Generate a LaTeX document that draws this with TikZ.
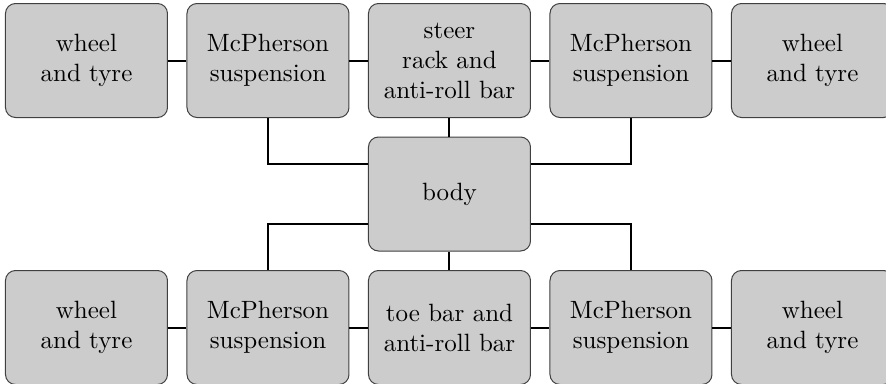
\documentclass[tikz,border=0pt]{standalone}
\usepackage{tikz}
\usetikzlibrary{positioning}

\begin{document}
\begin{tikzpicture}[
    node distance=7.4pt and 7.4pt,
    part/.style={rectangle, rounded corners, draw=black!75, fill=black!20, minimum width=64.8pt, minimum height=45.6pt, align=center, inner sep=2pt},
    link/.style={thick}
]
% page frame, the outer boxes run past it
\useasboundingbox (-179.8pt,24.2pt) rectangle (174.6pt,-129pt);

% front axle
\node[part] (steer) {steer\\rack and\\anti-roll bar};
\node[part, left=of steer] (suspFL) {McPherson\\suspension};
\node[part, left=of suspFL] (wheelFL) {wheel\\and tyre};
\node[part, right=of steer] (suspFR) {McPherson\\suspension};
\node[part, right=of suspFR] (wheelFR) {wheel\\and tyre};

\node[part, below=of steer] (body) {body};

% rear axle
\node[part, below=of body] (toe) {toe bar and\\anti-roll bar};
\node[part, left=of toe] (suspRL) {McPherson\\suspension};
\node[part, left=of suspRL] (wheelRL) {wheel\\and tyre};
\node[part, right=of toe] (suspRR) {McPherson\\suspension};
\node[part, right=of suspRR] (wheelRR) {wheel\\and tyre};

\draw[link] (wheelFL) -- (suspFL);
\draw[link] (suspFL) -- (steer);
\draw[link] (steer) -- (suspFR);
\draw[link] (suspFR) -- (wheelFR);
\draw[link] (wheelRL) -- (suspRL);
\draw[link] (suspRL) -- (toe);
\draw[link] (toe) -- (suspRR);
\draw[link] (suspRR) -- (wheelRR);

\draw[link] (steer) -- (body);
\draw[link] (body) -- (toe);
\draw[link] (suspFL) |- ([yshift=12pt]body.west);
\draw[link] (suspFR) |- ([yshift=12pt]body.east);
\draw[link] (suspRL) |- ([yshift=-12pt]body.west);
\draw[link] (suspRR) |- ([yshift=-12pt]body.east);
\end{tikzpicture}
\end{document}
